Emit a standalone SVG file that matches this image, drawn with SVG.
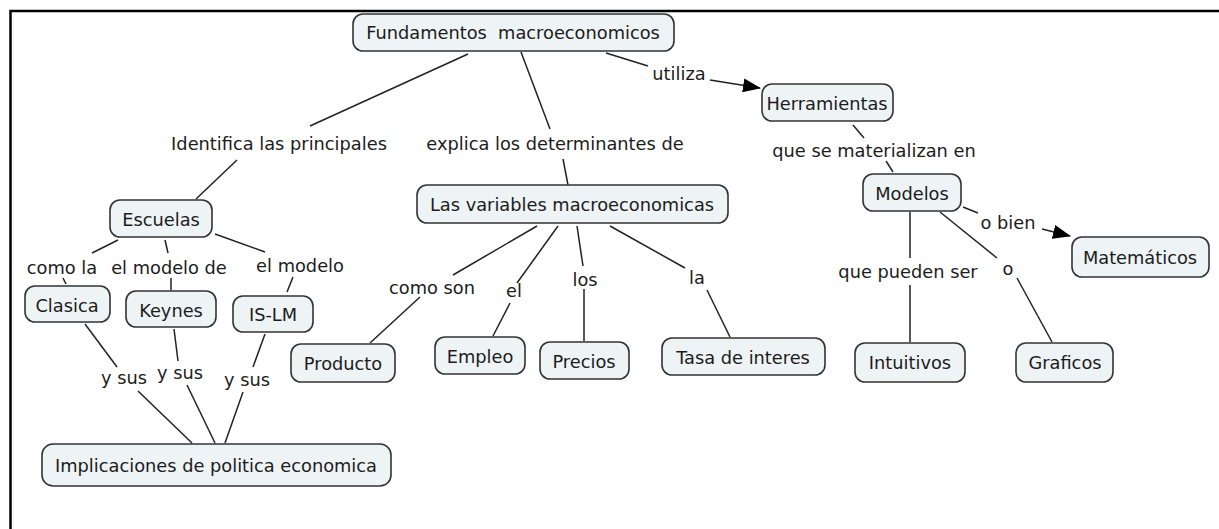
<svg xmlns="http://www.w3.org/2000/svg" width="1219" height="529" viewBox="0 0 1219 529">
<defs>
<style>
.node rect{fill:#eef3f5;stroke:#333;stroke-width:1.6}
text{font-family:"DejaVu Sans",Verdana,sans-serif;font-size:17.8px;fill:#1c1c1c;text-anchor:middle;dominant-baseline:central}
#connectors line{stroke:#222;stroke-width:1.5;fill:none}
</style>
<marker id="arrow" markerUnits="userSpaceOnUse" markerWidth="18" markerHeight="14" refX="17" refY="7" orient="auto">
<path d="M0,0 L18,7 L0,14 z" fill="#000"/>
</marker>
</defs>
<rect x="0" y="0" width="1219" height="529" fill="#fff"/>
<path d="M10.5,529 V11 H1219" fill="none" stroke="#000" stroke-width="2.5"/>
<g id="connectors">
<line x1="468" y1="54" x2="310" y2="126"/>
<line x1="237" y1="160" x2="196" y2="199"/>
<line x1="521" y1="52" x2="550" y2="129"/>
<line x1="563" y1="159" x2="568" y2="185"/>
<line x1="606" y1="53" x2="648" y2="66"/>
<line x1="710" y1="80" x2="760" y2="88" marker-end="url(#arrow)"/>
<line x1="853" y1="125" x2="864" y2="138"/>
<line x1="886" y1="161" x2="893" y2="172"/>
<line x1="118" y1="240" x2="92" y2="253"/>
<line x1="63" y1="278" x2="66" y2="284"/>
<line x1="165" y1="240" x2="168" y2="253"/>
<line x1="171" y1="278" x2="171" y2="290"/>
<line x1="215" y1="234" x2="265" y2="252"/>
<line x1="293" y1="277" x2="287" y2="292"/>
<line x1="85" y1="324" x2="117" y2="367"/>
<line x1="138" y1="391" x2="192" y2="443"/>
<line x1="174" y1="329" x2="178" y2="361"/>
<line x1="187" y1="385" x2="215" y2="443"/>
<line x1="265" y1="334" x2="253" y2="367"/>
<line x1="243" y1="392" x2="225" y2="443"/>
<line x1="537" y1="226" x2="453" y2="275"/>
<line x1="420" y1="297" x2="370" y2="343"/>
<line x1="558" y1="226" x2="517" y2="283"/>
<line x1="510" y1="303" x2="493" y2="336"/>
<line x1="577" y1="226" x2="583" y2="266"/>
<line x1="584" y1="289" x2="584" y2="341"/>
<line x1="610" y1="226" x2="685" y2="268"/>
<line x1="707" y1="290" x2="730" y2="337"/>
<line x1="963" y1="207" x2="978" y2="213"/>
<line x1="1042" y1="229" x2="1070" y2="236" marker-end="url(#arrow)"/>
<line x1="910" y1="212" x2="910" y2="258"/>
<line x1="910" y1="285" x2="910" y2="342"/>
<line x1="940" y1="212" x2="997" y2="258"/>
<line x1="1017" y1="278" x2="1052" y2="342"/>
<text x="679" y="73">utiliza</text>
<text x="279" y="143">Identifica las principales</text>
<text x="555" y="143">explica los determinantes de</text>
<text x="874" y="150">que se materializan en</text>
<text x="62" y="267">como la</text>
<text x="169" y="267">el modelo de</text>
<text x="300" y="265">el modelo</text>
<text x="124" y="377">y sus</text>
<text x="180" y="372">y sus</text>
<text x="247" y="379">y sus</text>
<text x="432" y="287">como son</text>
<text x="514" y="290">el</text>
<text x="585" y="279">los</text>
<text x="697" y="277">la</text>
<text x="908" y="271">que pueden ser</text>
<text x="1008" y="268">o</text>
<text x="1008" y="222">o bien</text>
</g>
<g id="n_fund" class="node"><rect x="353" y="14" width="321" height="37" rx="10"/><text x="513" y="32">Fundamentos&#160; macroeconomicos</text></g>
<g id="n_herr" class="node"><rect x="762" y="84" width="131" height="37" rx="10"/><text x="827" y="103">Herramientas</text></g>
<g id="n_esc" class="node"><rect x="110" y="200" width="102" height="37" rx="10"/><text x="161" y="219">Escuelas</text></g>
<g id="n_clas" class="node"><rect x="25" y="286" width="85" height="36" rx="10"/><text x="67" y="305">Clasica</text></g>
<g id="n_keyn" class="node"><rect x="126" y="291" width="90" height="36" rx="10"/><text x="171" y="310">Keynes</text></g>
<g id="n_islm" class="node"><rect x="233" y="296" width="80" height="36" rx="10"/><text x="273" y="314">IS-LM</text></g>
<g id="n_impl" class="node"><rect x="42" y="444" width="349" height="42" rx="11"/><text x="216" y="465">Implicaciones de politica economica</text></g>
<g id="n_var" class="node"><rect x="417" y="185" width="311" height="38" rx="10"/><text x="572" y="204">Las variables macroeconomicas</text></g>
<g id="n_prod" class="node"><rect x="291" y="344" width="104" height="38" rx="10"/><text x="343" y="363">Producto</text></g>
<g id="n_empl" class="node"><rect x="435" y="337" width="90" height="37" rx="10"/><text x="480" y="356">Empleo</text></g>
<g id="n_prec" class="node"><rect x="540" y="342" width="89" height="37" rx="10"/><text x="584" y="361">Precios</text></g>
<g id="n_tasa" class="node"><rect x="662" y="338" width="163" height="37" rx="10"/><text x="743" y="357">Tasa de interes</text></g>
<g id="n_mod" class="node"><rect x="863" y="174" width="98" height="37" rx="10"/><text x="912" y="193">Modelos</text></g>
<g id="n_mat" class="node"><rect x="1072" y="237" width="137" height="40" rx="10"/><text x="1140" y="257">Matemáticos</text></g>
<g id="n_int" class="node"><rect x="855" y="343" width="110" height="39" rx="10"/><text x="910" y="362">Intuitivos</text></g>
<g id="n_graf" class="node"><rect x="1016" y="343" width="97" height="39" rx="10"/><text x="1065" y="362">Graficos</text></g>
</svg>
